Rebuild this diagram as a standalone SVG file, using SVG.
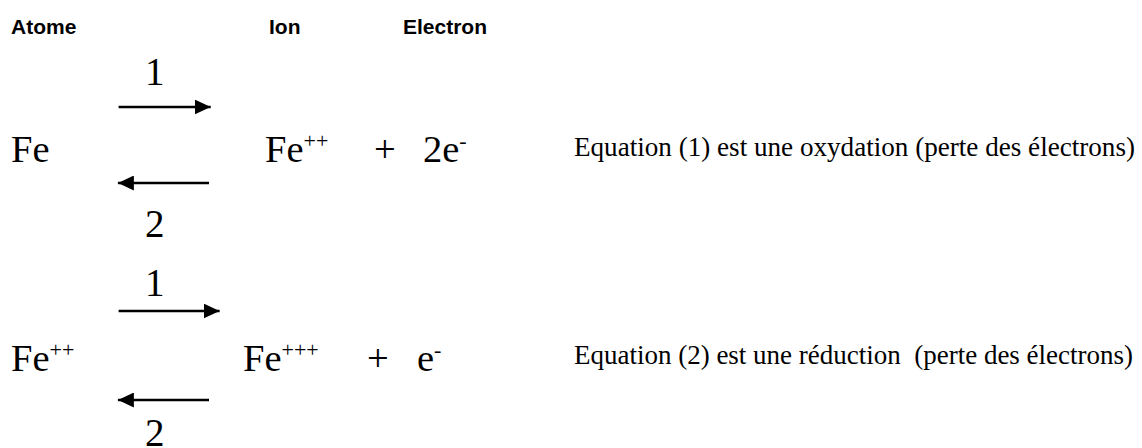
<svg xmlns="http://www.w3.org/2000/svg" width="1142" height="448" viewBox="0 0 1142 448">
<defs>
<marker id="ah" viewBox="0 0 16 15" refX="16" refY="7.5" markerWidth="16" markerHeight="15" markerUnits="userSpaceOnUse" orient="auto">
<path d="M0,0 L16,7.5 L0,15 Z" fill="#000"/>
</marker>
<style>
.hd{font-family:"Liberation Sans",Arial,sans-serif;font-weight:bold;font-size:21px;fill:#000}
.ch{font-family:"Liberation Serif","Times New Roman",serif;font-size:38.5px;fill:#000}
.sup{font-size:22px}
.num{font-family:"Liberation Serif","Times New Roman",serif;font-size:39px;fill:#000}
.eq{font-family:"Liberation Serif","Times New Roman",serif;font-size:26.5px;fill:#000;white-space:pre}
.arr{stroke:#000;stroke-width:2.6;fill:none;marker-end:url(#ah)}
</style>
</defs>
<rect width="1142" height="448" fill="#fff"/>
<g id="headers">
<text class="hd" x="11" y="34">Atome</text>
<text class="hd" x="269" y="34">Ion</text>
<text class="hd" x="403" y="34">Electron</text>
</g>
<g id="connectors">
<line class="arr" x1="118.6" y1="107" x2="210.7" y2="107"/>
<line class="arr" x1="209" y1="183" x2="117.9" y2="183"/>
<line class="arr" x1="118.6" y1="311" x2="219.6" y2="311"/>
<line class="arr" x1="209" y1="400" x2="117.9" y2="400"/>
</g>
<g id="labels">
<text class="num" x="145" y="85">1</text>
<text class="num" x="145" y="237">2</text>
<text class="num" x="145" y="296">1</text>
<text class="num" x="145" y="446">2</text>
</g>
<g id="eq1">
<text class="ch" x="11" y="162.3">Fe</text>
<text class="ch" x="265" y="162.3">Fe<tspan class="sup" dy="-14">++</tspan></text>
<text class="ch" x="374" y="162.3">+</text>
<text class="ch" x="423" y="162.3">2e<tspan class="sup" dy="-14">-</tspan></text>
<text class="eq" x="574" y="156" textLength="561" lengthAdjust="spacingAndGlyphs">Equation (1) est une oxydation (perte des électrons)</text>
</g>
<g id="eq2">
<text class="ch" x="11" y="370.7">Fe<tspan class="sup" dy="-14">++</tspan></text>
<text class="ch" x="243" y="370.7">Fe<tspan class="sup" dy="-14">+++</tspan></text>
<text class="ch" x="367" y="370.7">+</text>
<text class="ch" x="417" y="370.7">e<tspan class="sup" dy="-14">-</tspan></text>
<text class="eq" x="574" y="364" textLength="559" lengthAdjust="spacingAndGlyphs">Equation (2) est une réduction  (perte des électrons)</text>
</g>
</svg>
